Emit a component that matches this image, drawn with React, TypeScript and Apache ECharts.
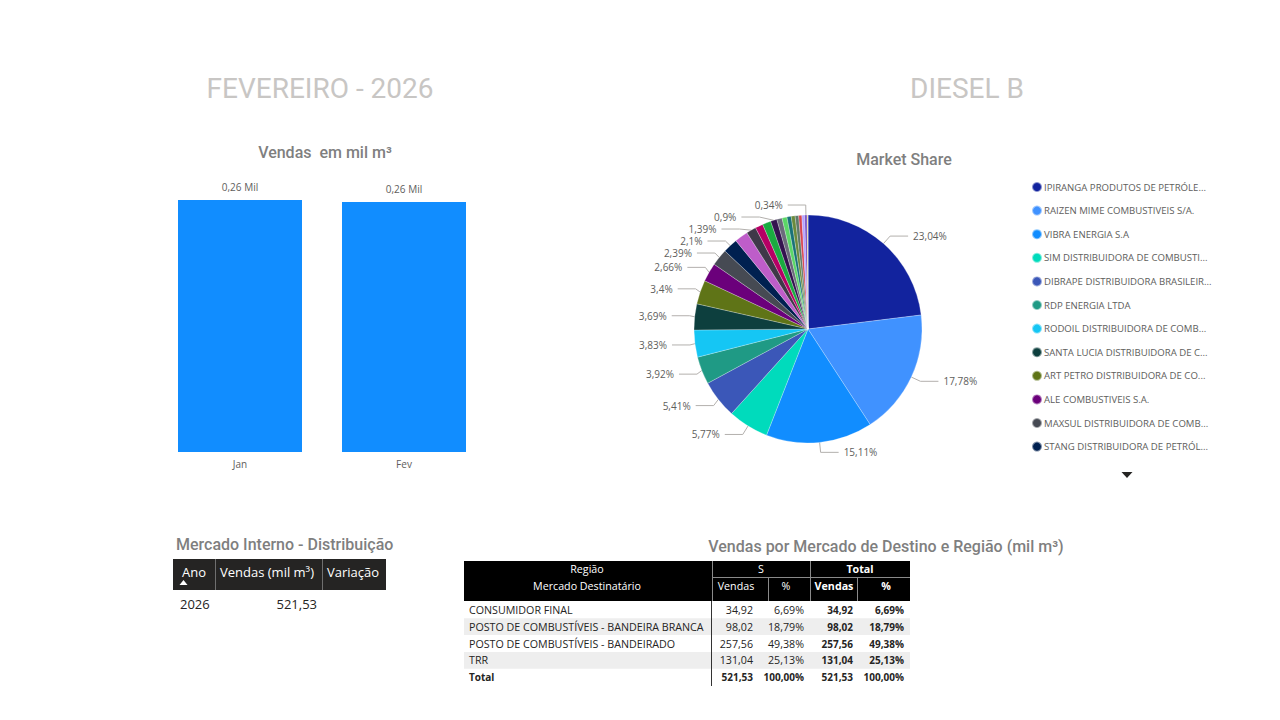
import React, { useEffect, useRef } from 'react';
import * as echarts from 'echarts';

// ---------- data ----------
const meses = ['Jan', 'Fev'];
const vendasMes = [261.8, 259.73];

const empresas = [
  'IPIRANGA PRODUTOS DE PETRÓLEO S.A.',
  'RAIZEN MIME COMBUSTIVEIS S/A.',
  'VIBRA ENERGIA S.A',
  'SIM DISTRIBUIDORA DE COMBUSTIVEIS S.A.',
  'DIBRAPE DISTRIBUIDORA BRASILEIRA DE PETROLEO LTDA',
  'RDP ENERGIA LTDA',
  'RODOIL DISTRIBUIDORA DE COMBUSTIVEIS LTDA',
  'SANTA LUCIA DISTRIBUIDORA DE COMBUSTIVEIS LTDA',
  'ART PETRO DISTRIBUIDORA DE COMBUSTIVEIS LTDA',
  'ALE COMBUSTIVEIS S.A.',
  'MAXSUL DISTRIBUIDORA DE COMBUSTIVEIS LTDA',
  'STANG DISTRIBUIDORA DE PETRÓLEO LTDA',
  'DISTRIBUIDORA 13',
  'DISTRIBUIDORA 14',
  'DISTRIBUIDORA 15',
  'DISTRIBUIDORA 16',
  'DISTRIBUIDORA 17',
  'DISTRIBUIDORA 18',
  'DISTRIBUIDORA 19',
  'DISTRIBUIDORA 20',
  'DISTRIBUIDORA 21',
  'DISTRIBUIDORA 22',
  'DISTRIBUIDORA 23',
  'DISTRIBUIDORA 24',
  'DISTRIBUIDORA 25',
  'DISTRIBUIDORA 26',
  'DISTRIBUIDORA 27',
  'DISTRIBUIDORA 28',
];
const share = [
  23.04, 17.78, 15.11, 5.77, 5.41, 3.92, 3.83, 3.69, 3.4, 2.66, 2.39, 2.1,
  1.9, 1.39, 1.1, 1.2, 0.9, 0.75, 0.7, 0.6, 0.55, 0.5, 0.45, 0.4, 0.34, 0.05, 0.04, 0.03,
];
const coresPie = [
  '#12239E', '#4092FF', '#118DFF', '#00DBBC', '#3B57B8', '#1F9A85', '#15C6F4', '#0D3F3E',
  '#5F7417', '#6B007B', '#464A53', '#002050',
  '#BE5DC9', '#3F3848', '#B60064', '#1AAB40', '#34124F', '#6B6B7B', '#5BD667', '#197278',
  '#6A8A3C', '#5E7A6A', '#D64550', '#B5A1FF', '#744EC2', '#E66C37', '#D9B300', '#C4A200',
];
const rotuloVisivel = [
  true, true, true, true, true, true, true, true, true, true, true, true,
  false, true, false, false, true, false, false, false, false, false, false, false, true, false, false, false,
];
const itensLegenda = 12;

const cabecalhoEsq = ['Ano', 'Vendas (mil m³)', 'Variação'];
const anos = ['2026'];
const vendasAno = [521.53];

const mercados = [
  'CONSUMIDOR FINAL',
  'POSTO DE COMBUSTÍVEIS - BANDEIRA BRANCA',
  'POSTO DE COMBUSTÍVEIS - BANDEIRADO',
  'TRR',
];
const vendasS = [34.92, 98.02, 257.56, 131.04];
const pctS = [6.69, 18.79, 49.38, 25.13];
const totalVendas = 521.53;
const totalPct = 100;

// ---------- helpers ----------
const FONT = '"Open Sans", "Noto Sans", sans-serif';
const TFONT = 'Roboto, "Noto Sans", sans-serif';
const fmt2 = (v: number) => v.toFixed(2).replace('.', ',');
const fmtPct = (v: number) => String(v).replace('.', ',') + '%';

function txt(x: number, y: number, text: string, opts: any = {}) {
  return {
    type: 'text',
    x,
    y,
    silent: true,
    style: {
      text,
      fontSize: opts.size ?? 10.7,
      fontFamily: opts.font ?? FONT,
      fontWeight: opts.weight ?? 'normal',
      fill: opts.color ?? '#252423',
      align: opts.align ?? 'left',
      verticalAlign: 'middle',
    },
  };
}
function box(x: number, y: number, w: number, h: number, fill: string) {
  return { type: 'rect', silent: true, shape: { x, y, width: w, height: h }, style: { fill } };
}
function vline(x: number, y1: number, y2: number, stroke: string) {
  return { type: 'line', silent: true, shape: { x1: x, y1, x2: x, y2 }, style: { stroke, lineWidth: 1 } };
}
function hline(x1: number, x2: number, y: number, stroke: string) {
  return { type: 'line', silent: true, shape: { x1, y1: y, x2, y2: y }, style: { stroke, lineWidth: 1 } };
}

function buildGraphics() {
  const g: any[] = [];
  // left table
  g.push(box(173, 559, 213, 31, '#252423'));
  g.push(vline(215.5, 559, 590, '#6f6f6f'));
  g.push(vline(322.5, 559, 590, '#6f6f6f'));
  g.push(txt(182, 572, cabecalhoEsq[0], { size: 13, color: '#ffffff' }));
  g.push(txt(220, 572, cabecalhoEsq[1], { size: 13, color: '#ffffff' }));
  g.push(txt(327, 572, cabecalhoEsq[2], { size: 13, color: '#ffffff' }));
  g.push({
    type: 'polygon', silent: true,
    shape: { points: [[179.5, 585], [187.5, 585], [183.5, 580]] },
    style: { fill: '#ffffff' },
  });
  anos.forEach((a, i) => {
    g.push(txt(180, 604 + i * 18, a, { size: 13 }));
    g.push(txt(317, 604 + i * 18, fmt2(vendasAno[i]), { size: 13, align: 'right' }));
  });

  // right table
  const X0 = 464, X1 = 910;
  g.push(box(X0, 561, X1 - X0, 40, '#000000'));
  g.push(vline(712.5, 561, 601, '#8a8a8a'));
  g.push(vline(810.5, 561, 601, '#8a8a8a'));
  g.push(vline(768.5, 578, 601, '#8a8a8a'));
  g.push(vline(857.5, 578, 601, '#8a8a8a'));
  g.push(hline(712, X1, 577.5, '#8a8a8a'));
  g.push(txt(587, 569, 'Região', { color: '#fff', align: 'center' }));
  g.push(txt(761, 569, 'S', { color: '#fff', align: 'center' }));
  g.push(txt(860, 569, 'Total', { color: '#fff', weight: 'bold', align: 'center' }));
  g.push(txt(587, 586, 'Mercado Destinatário', { color: '#fff', align: 'center' }));
  g.push(txt(736, 586, 'Vendas', { color: '#fff', align: 'center' }));
  g.push(txt(786, 586, '%', { color: '#fff', align: 'center' }));
  g.push(txt(834, 586, 'Vendas', { color: '#fff', align: 'center', weight: 'bold' }));
  g.push(txt(886, 586, '%', { color: '#fff', align: 'center', weight: 'bold' }));

  const rowH = 16.8;
  const y0 = 601.5;
  mercados.forEach((m, i) => {
    const top = y0 + i * rowH;
    if (i % 2 === 1) g.push(box(X0, top, X1 - X0, rowH, '#EEEEEE'));
    const cy = top + rowH / 2;
    g.push(txt(469, cy, m));
    g.push(txt(753, cy, fmt2(vendasS[i]), { align: 'right' }));
    g.push(txt(804, cy, fmt2(pctS[i]) + '%', { align: 'right' }));
    g.push(txt(853, cy, fmt2(vendasS[i]), { align: 'right', weight: 'bold', size: 10 }));
    g.push(txt(904, cy, fmt2(pctS[i]) + '%', { align: 'right', weight: 'bold', size: 10 }));
  });
  const ty = y0 + mercados.length * rowH + rowH / 2;
  g.push(txt(469, ty, 'Total', { weight: 'bold', size: 10 }));
  g.push(txt(753, ty, fmt2(totalVendas), { align: 'right', weight: 'bold', size: 10 }));
  g.push(txt(804, ty, fmt2(totalPct) + '%', { align: 'right', weight: 'bold', size: 10 }));
  g.push(txt(853, ty, fmt2(totalVendas), { align: 'right', weight: 'bold', size: 10 }));
  g.push(txt(904, ty, fmt2(totalPct) + '%', { align: 'right', weight: 'bold', size: 10 }));
  g.push(vline(711.5, 601, 686, '#333333'));

  // legend scroll arrow
  g.push({
    type: 'polygon', silent: true,
    shape: { points: [[1121.5, 472], [1132.5, 472], [1127, 478]] },
    style: { fill: '#252423' },
  });
  return g;
}

export default function App() {
  const ref = useRef<HTMLDivElement>(null);
  useEffect(() => {
    document.body.style.margin = '0';
    if (!ref.current) return;
    const chart = echarts.init(ref.current, null, { renderer: 'svg' });
    const titleStyle = { fontFamily: TFONT, fontSize: 16, fontWeight: 500, color: '#7F7F7F' };
    const bigTitle = { fontFamily: TFONT, fontSize: 28, fontWeight: 'normal', color: '#C8C6C4' };
    chart.setOption({
      animation: false,
      backgroundColor: '#ffffff',
      title: [
        { text: 'FEVEREIRO - 2026', left: 320, top: 74, padding: 0, textAlign: 'center', textStyle: bigTitle },
        { text: 'DIESEL B', left: 967, top: 74, padding: 0, textAlign: 'center', textStyle: bigTitle },
        { text: 'Vendas  em mil m³', left: 325, top: 144, padding: 0, textAlign: 'center', textStyle: titleStyle },
        { text: 'Market Share', left: 904, top: 151, padding: 0, textAlign: 'center', textStyle: titleStyle },
        { text: 'Mercado Interno - Distribuição', left: 176, top: 536, padding: 0, textStyle: titleStyle },
        { text: 'Vendas por Mercado de Destino e Região (mil m³)', left: 886, top: 538, padding: 0, textAlign: 'center', textStyle: titleStyle },
      ],
      grid: { left: 158, width: 328, top: 200, bottom: 268 },
      xAxis: {
        type: 'category',
        data: meses,
        axisLine: { show: false },
        axisTick: { show: false },
        axisLabel: { color: '#605E5C', fontSize: 10, fontFamily: FONT, margin: 7 },
      },
      yAxis: { type: 'value', show: false, min: 0, max: 'dataMax', splitLine: { show: false } },
      legend: {
        orient: 'vertical',
        left: 1031,
        top: 181,
        padding: 0,
        data: empresas.slice(0, itensLegenda),
        icon: 'circle',
        itemWidth: 10,
        itemHeight: 10,
        itemGap: 11.6,
        selectedMode: false,
        textStyle: {
          fontFamily: FONT, fontSize: 9.6, color: '#605E5C', padding: [0, 0, 0, -3],
          width: 170, overflow: 'truncate', ellipsis: '...', lineHeight: 12,
        },
      },
      series: [
        {
          type: 'bar',
          data: vendasMes,
          barWidth: 124,
          itemStyle: { color: '#118DFF' },
          label: {
            show: true, position: 'top', distance: 8,
            color: '#605E5C', fontSize: 10, fontFamily: FONT,
            formatter: (p: any) => fmt2(p.value / 1000) + ' Mil',
          },
        },
        {
          type: 'pie',
          center: [808, 329],
          radius: 114,
          startAngle: 90,
          clockwise: true,
          avoidLabelOverlap: true,
          itemStyle: { borderColor: 'rgba(255,255,255,0.5)', borderWidth: 0.5 },
          label: {
            show: true, position: 'outside', color: '#605E5C', fontSize: 10, fontFamily: FONT,
            formatter: (p: any) => fmtPct(p.value),
          },
          labelLine: { length: 10, length2: 18, lineStyle: { color: '#B3B0AD', width: 1 } },
          data: empresas.map((n, i) => ({
            name: n,
            value: share[i],
            itemStyle: { color: coresPie[i] },
            label: { show: rotuloVisivel[i] },
            labelLine: { show: rotuloVisivel[i] },
          })),
        },
      ],
      graphic: buildGraphics(),
    });
    return () => chart.dispose();
  }, []);
  return <div ref={ref} style={{ width: 1280, height: 720 }} />;
}
